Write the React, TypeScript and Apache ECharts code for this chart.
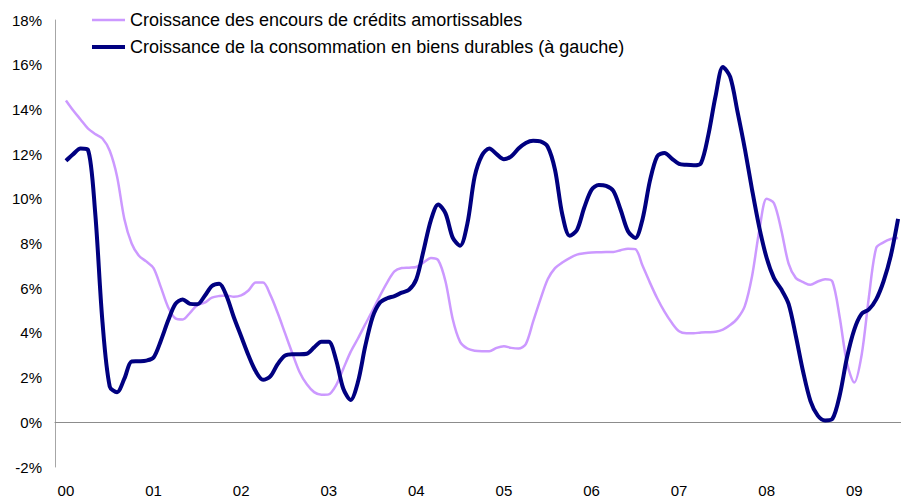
import React, { useEffect, useRef } from "react";
import * as echarts from "echarts";

// Monthly data, Jan 2000 (index 0) to Jul 2009 (index 114), in %
const yearLabels = ["00", "01", "02", "03", "04", "05", "06", "07", "08", "09"];
const yTicks = [-2, 0, 2, 4, 6, 8, 10, 12, 14, 16, 18];

const seriesNames = [
  "Croissance des encours de crédits amortissables",
  "Croissance de la consommation en biens durables (à gauche)",
];

const credits = [
  14.4, 13.95, 13.55, 13.15, 12.9, 12.7, 12.15, 11.0, 9.1, 8.0, 7.45, 7.2,
  6.9, 6.05, 5.15, 4.65, 4.6, 4.9, 5.25, 5.35, 5.58, 5.65, 5.67, 5.62,
  5.68, 5.9, 6.25, 6.25, 5.7, 4.9, 4.0, 3.1, 2.25, 1.7, 1.35, 1.23,
  1.25, 1.65, 2.4, 3.15, 3.75, 4.38, 5.0, 5.65, 6.25, 6.75, 6.9, 6.92,
  6.95, 7.15, 7.35, 7.25, 6.3, 4.6, 3.6, 3.3, 3.2, 3.18, 3.18, 3.33,
  3.4, 3.33, 3.3, 3.5, 4.5, 5.5, 6.4, 6.9, 7.15, 7.35, 7.5, 7.56,
  7.6, 7.61, 7.62, 7.62, 7.7, 7.77, 7.75, 7.0, 6.25, 5.55, 4.95, 4.45,
  4.07, 3.98, 3.98, 4.02, 4.03, 4.05, 4.15, 4.35, 4.65, 5.2, 6.55, 8.6,
  10.0, 9.8, 8.6, 7.1, 6.45, 6.27, 6.15, 6.3, 6.4, 6.3, 4.7, 2.65,
  1.78, 3.0, 5.6, 7.8, 8.05, 8.2, 8.25,
];

const consommation = [
  11.7, 12.0, 12.25, 12.2, 9.4, 4.5, 1.6, 1.35, 1.95, 2.72, 2.73, 2.76,
  2.9, 3.65, 4.55, 5.3, 5.5, 5.3, 5.28, 5.65, 6.1, 6.2, 5.65, 4.7,
  3.85, 3.0, 2.28, 1.9, 2.05, 2.6, 2.98, 3.05, 3.05, 3.07, 3.35, 3.6,
  3.6, 2.8, 1.5, 1.0, 1.8, 3.4, 4.7, 5.35, 5.55, 5.65, 5.8, 5.93,
  6.4, 7.7, 9.05, 9.75, 9.35, 8.25, 7.9, 8.9, 11.0, 11.95, 12.25, 12.0,
  11.77, 11.9, 12.25, 12.5, 12.6, 12.57, 12.33, 11.3, 9.3, 8.35, 8.6, 9.6,
  10.4, 10.62, 10.58, 10.35, 9.5, 8.55, 8.25, 9.1, 10.8, 11.9, 12.05, 11.8,
  11.56, 11.52, 11.5, 11.6, 12.85, 14.6, 15.9, 15.45, 13.9, 12.25, 10.4, 8.7,
  7.35, 6.45, 5.95, 5.3, 3.85, 2.25, 0.95, 0.3, 0.08, 0.15, 1.2, 2.9,
  4.15, 4.85, 5.05, 5.5, 6.3, 7.45, 9.1,
];

const FONT = "'Liberation Sans', Arial, sans-serif";

export default function App() {
  const ref = useRef<HTMLDivElement>(null);
  useEffect(() => {
    if (!ref.current) return;
    const chart = echarts.init(ref.current, undefined, { renderer: "svg" });
    const yearTickValues = yearLabels.map((_, i) => i * 12);
    const xMin = -1.5;
    const xMax = 114.4;
    chart.setOption({
      animation: false,
      backgroundColor: "#ffffff",
      grid: { left: 55, right: 0, top: 20, bottom: 29, containLabel: false },
      legend: {
        orient: "vertical",
        left: 87,
        top: 6,
        itemWidth: 33,
        itemHeight: 18,
        itemGap: 9,
        textStyle: { fontSize: 18, fontFamily: FONT, color: "#000" },
        data: [
          { name: seriesNames[0], icon: "path://M0,0H33V2.5H0Z" },
          { name: seriesNames[1], icon: "path://M0,0H33V4H0Z" },
        ],
      },
      xAxis: [
        {
          type: "value",
          min: xMin,
          max: xMax,
          position: "bottom",
          axisLine: { show: false, onZero: false },
          axisTick: { show: false },
          splitLine: { show: false },
          axisLabel: {
            customValues: yearTickValues,
            formatter: (v: number) => yearLabels[Math.round(v / 12)] ?? "",
            fontSize: 15,
            fontFamily: FONT,
            color: "#000",
            margin: 16,
          },
        },
        {
          type: "value",
          min: xMin,
          max: xMax,
          position: "bottom",
          axisLine: { show: true, onZero: true, lineStyle: { color: "#8c8c8c", width: 1 } },
          axisTick: { show: false },
          axisLabel: { show: false },
          splitLine: { show: false },
        },
      ],
      yAxis: {
        type: "value",
        min: yTicks[0],
        max: yTicks[yTicks.length - 1],
        interval: 2,
        axisLine: { show: true, onZero: false, lineStyle: { color: "#a6a6a6", width: 1 } },
        axisTick: { show: false },
        splitLine: { show: false },
        axisLabel: {
          formatter: "{value}%",
          fontSize: 15,
          fontFamily: FONT,
          color: "#000",
          margin: 13,
        },
      },
      series: [
        {
          name: seriesNames[0],
          type: "line",
          xAxisIndex: 0,
          data: credits.map((v, i) => [i, v]),
          symbol: "none",
          smooth: 0.3,
          lineStyle: { color: "#cc99ff", width: 2.5 },
          itemStyle: { color: "#cc99ff" },
          z: 2,
        },
        {
          name: seriesNames[1],
          type: "line",
          xAxisIndex: 0,
          data: consommation.map((v, i) => [i, v]),
          symbol: "none",
          smooth: 0.3,
          lineStyle: { color: "#000080", width: 4 },
          itemStyle: { color: "#000080" },
          z: 3,
        },
      ],
    });
    return () => chart.dispose();
  }, []);
  return (
    <div
      ref={ref}
      style={{ position: "fixed", left: 0, top: 0, width: 901, height: 498, background: "#fff" }}
    />
  );
}
